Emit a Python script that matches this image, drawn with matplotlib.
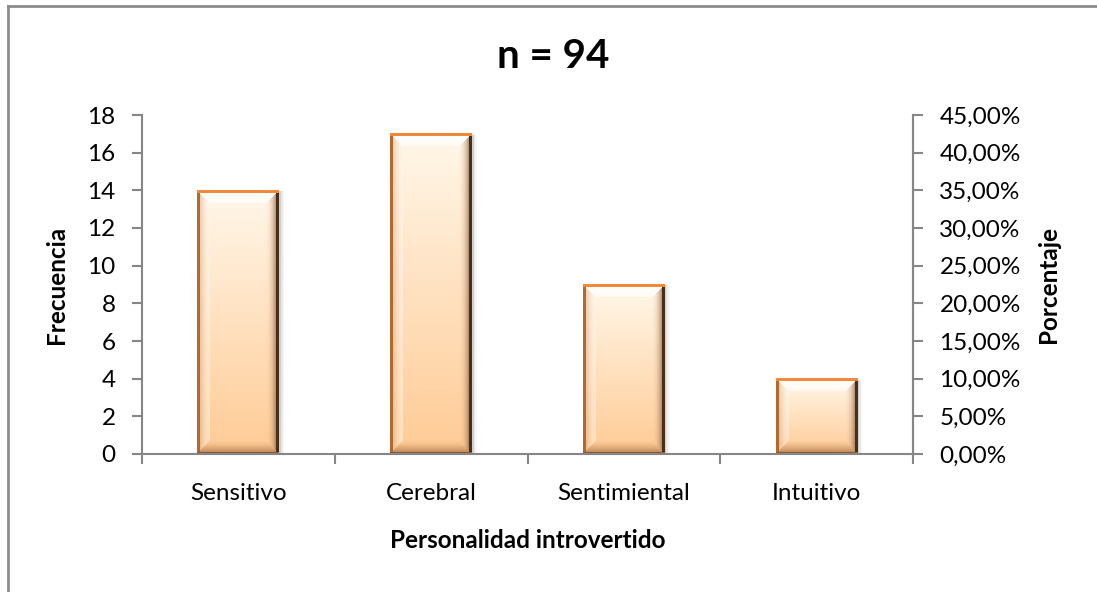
import numpy as np
import matplotlib
matplotlib.use("Agg")
import matplotlib.pyplot as plt
from matplotlib.ticker import FixedLocator

categories = ["Sensitivo", "Cerebral", "Sentimiental", "Intuitivo"]
frecuencia = [14, 17, 9, 4]
left_ticks = [0, 2, 4, 6, 8, 10, 12, 14, 16, 18]
pct_ticks = [0.0, 0.05, 0.10, 0.15, 0.20, 0.25, 0.30, 0.35, 0.40, 0.45]
pct_labels = ["0,00%", "5,00%", "10,00%", "15,00%", "20,00%", "25,00%",
              "30,00%", "35,00%", "40,00%", "45,00%"]
title = "n = 94"
xlabel = "Personalidad introvertido"
ylabel_left = "Frecuencia"
ylabel_right = "Porcentaje"

FONT = "Lato"
plt.rcParams["font.family"] = [FONT, "DejaVu Sans"]

W, H = 1097, 592
fig = plt.figure(figsize=(W / 100, H / 100), dpi=100)
ax = fig.add_axes([142 / W, 1 - 454 / H, (913 - 142) / W, (454 - 115) / H])

spine_c = "#868686"
FS = 17.5
x = np.arange(len(categories))
bars = ax.bar(x, frecuencia, width=0.425, color="none", edgecolor="none", zorder=2)
ax.set_xlim(-0.5, len(categories) - 0.5)
ax.set_ylim(left_ticks[0], left_ticks[-1])

def lerp(c1, c2, t):
    c1 = np.array(matplotlib.colors.to_rgb(c1))
    c2 = np.array(matplotlib.colors.to_rgb(c2))
    t = np.asarray(t)[..., None]
    return c1 * (1 - t) + c2 * t

def bar_image(wp, hp, bev=13):
    wp = max(int(round(wp)), 4)
    hp = max(int(round(hp)), 4)
    bev = min(bev, wp // 2 - 1, hp // 2 - 1)
    ii, jj = np.mgrid[0:hp, 0:wp]
    t = ii / max(hp - 1, 1)
    img = lerp("#FFF7EA", "#FFCB95", t)
    dt = ii.astype(float)
    db = (hp - 1 - ii).astype(float)
    dl = jj.astype(float)
    dr = (wp - 1 - jj).astype(float)
    dmin = np.minimum(np.minimum(dt, db), np.minimum(dl, dr))
    inb = dmin < bev
    f = np.clip(dmin / bev, 0, 1)  # 0 at edge, 1 at inner
    top = inb & (dt == dmin)
    bot = inb & (db == dmin) & ~top
    lef = inb & (dl == dmin) & ~top & ~bot
    rig = inb & (dr == dmin) & ~top & ~bot & ~lef
    # top: whitish
    w = (0.97 - 0.45 * f)[top]
    img[top] = img[top] * (1 - w[:, None]) + np.array([1, 1, 1]) * w[:, None]
    # left: light cream with orange toward edge
    w = (1 - f)[lef] ** 2
    img[lef] = img[lef] * 0.5 + lerp("#FFF6EA", "#C47A3C", w) * 0.5
    # right: darkening to brown
    w = (1 - f)[rig] ** 1.3
    img[rig] = img[rig] * (1 - 0.85 * w[:, None]) + lerp("#F8C498", "#5A3820", w) * (0.85 * w[:, None])
    # bottom: darker tan
    w = (1 - f)[bot]
    img[bot] = img[bot] * (1 - 0.7 * w[:, None]) + lerp("#E0A068", "#8E5A32", w) * (0.7 * w[:, None])
    # outer lines
    img[:, :3] = matplotlib.colors.to_rgb("#B06A30")
    img[:, -3:] = matplotlib.colors.to_rgb("#4A2E16")
    img[-2:, :] = matplotlib.colors.to_rgb("#8A5A32")
    img[:3, :] = matplotlib.colors.to_rgb("#F28A3A")
    return np.clip(img, 0, 1)

fig.canvas.draw()
unit_x = ax.transData.transform((1, 0))[0] - ax.transData.transform((0, 0))[0]
for p in bars.patches:
    x0, y0 = p.get_x(), p.get_y()
    x1, y1 = x0 + p.get_width(), y0 + p.get_height()
    (px0, py0), (px1, py1) = ax.transData.transform([(x0, y0), (x1, y1)])
    # soft shadow to the right
    for k, a in enumerate([0.10, 0.06, 0.03]):
        dx = (k + 1) * 1.6 / unit_x
        ax.add_patch(plt.Rectangle((x0 + dx, y0), p.get_width(), p.get_height() - 0.05,
                                   color="black", alpha=a, lw=0, zorder=1.5))
    img = bar_image(px1 - px0, py1 - py0)
    ax.imshow(img, extent=(x0, x1, y0, y1), aspect="auto", interpolation="bilinear", zorder=2)

ax.set_xlim(-0.5, len(categories) - 0.5)
ax.set_ylim(left_ticks[0], left_ticks[-1])
ax.set_yticks(left_ticks)
ax.set_yticklabels([str(v) for v in left_ticks])
ax.set_xticks(x)
ax.set_xticklabels(categories)
ax.xaxis.set_minor_locator(FixedLocator(np.arange(-0.5, len(categories), 1.0)))
ax.tick_params(axis="x", which="major", length=0, pad=21, labelsize=FS)
ax.tick_params(axis="x", which="minor", length=7, width=1.5, color=spine_c, direction="out")
ax.tick_params(axis="y", length=7, width=1.5, color=spine_c, labelsize=FS, pad=12)
ax.spines["top"].set_visible(False)
for s in ["left", "bottom", "right"]:
    ax.spines[s].set_color(spine_c)
    ax.spines[s].set_linewidth(1.5)
ax.spines["bottom"].set_zorder(3)

ax2 = ax.twinx()
ax2.set_ylim(pct_ticks[0], pct_ticks[-1])
ax2.set_yticks(pct_ticks)
ax2.set_yticklabels(pct_labels)
ax2.tick_params(axis="y", length=7, width=1.5, color=spine_c, labelsize=FS, pad=12)
for s in ["top", "left", "bottom"]:
    ax2.spines[s].set_visible(False)
ax2.spines["right"].set_color(spine_c)
ax2.spines["right"].set_linewidth(1.5)

ax.set_ylabel(ylabel_left, fontsize=FS, fontweight="bold", labelpad=14)
ax2.set_ylabel(ylabel_right, fontsize=FS, fontweight="bold", labelpad=12)
ax.set_xlabel(xlabel, fontsize=FS, fontweight="bold", labelpad=18)
fig.text(553 / W, 1 - 57 / H, title, fontsize=29, fontweight="bold", ha="center", va="center")

# outer chart border (partially visible)
fig.add_artist(plt.Line2D([8 / W, 8 / W], [0, 1 - 6 / H], color="#8C8C8C", lw=2, transform=fig.transFigure))
fig.add_artist(plt.Line2D([8 / W, 1], [1 - 6 / H, 1 - 6 / H], color="#8C8C8C", lw=2, transform=fig.transFigure))

fig.savefig("out.png", dpi=100)
